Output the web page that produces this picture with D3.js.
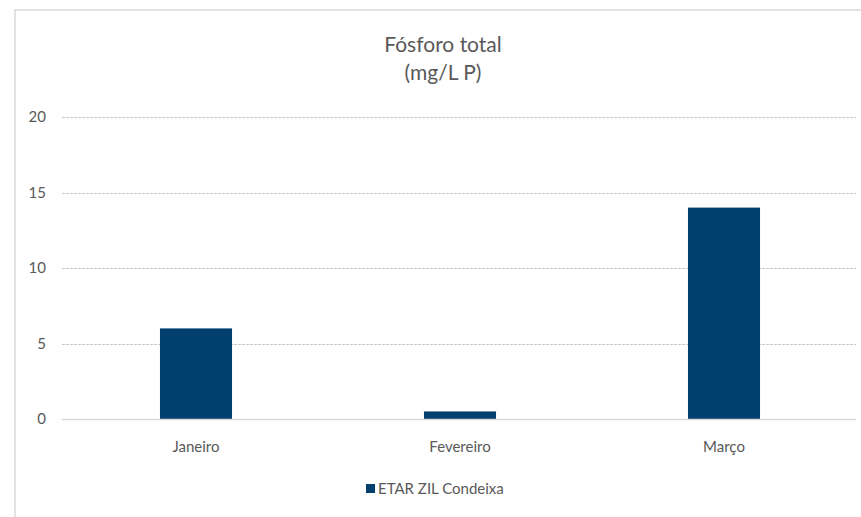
<!DOCTYPE html>
<html>
<head>
<meta charset="utf-8">
<script src="https://cdn.jsdelivr.net/npm/d3@7"></script>
<style>
  body { margin: 0; background: #fff; }
  text { font-family: Lato, "Open Sans", sans-serif; fill: #595959; }
</style>
</head>
<body>
<div id="chart"></div>
<script>
const months = ["Janeiro", "Fevereiro", "Março"];
const values = [6.0, 0.5, 14.0];
const yTicks = [0, 5, 10, 15, 20];
const seriesName = "ETAR ZIL Condeixa";
const titleLines = ["Fósforo total", "(mg/L P)"];

const width = 861, height = 517;
const plot = { left: 62, right: 856, top: 117, bottom: 419 };
const barColor = "#003f6e";

const svg = d3.select("#chart")
    .append("svg")
    .attr("width", width)
    .attr("height", height);

// chart frame (only top/left visible in the crop)
svg.append("rect")
    .attr("x", 15).attr("y", 10)
    .attr("width", 880).attr("height", 560)
    .attr("fill", "none")
    .attr("stroke", "#d9d9d9")
    .attr("stroke-width", 1.5);

const x = d3.scaleBand()
    .domain(months)
    .range([plot.left + 2, plot.right])
    .paddingInner(0.727)
    .paddingOuter(0.3635);

const y = d3.scaleLinear()
    .domain([0, 20])
    .range([plot.bottom, plot.top]);

// gridlines
svg.append("g")
    .selectAll("line")
    .data(yTicks.filter(d => d > 0))
    .join("line")
    .attr("x1", plot.left)
    .attr("x2", plot.right)
    .attr("y1", d => Math.round(y(d)) + 0.5)
    .attr("y2", d => Math.round(y(d)) + 0.5)
    .attr("stroke", "#c8c8c8")
    .attr("stroke-dasharray", "3,1");

// y tick labels
svg.append("g")
    .selectAll("text")
    .data(yTicks)
    .join("text")
    .attr("x", 46)
    .attr("y", d => y(d) + 5)
    .attr("text-anchor", "end")
    .style("font-size", "15px")
    .text(d => d);

// bars
svg.append("g")
    .selectAll("rect")
    .data(values)
    .join("rect")
    .attr("x", (d, i) => x(months[i]))
    .attr("y", d => y(d))
    .attr("width", x.bandwidth())
    .attr("height", d => y(0) - y(d))
    .attr("fill", barColor);

// baseline
svg.append("line")
    .attr("x1", plot.left).attr("x2", plot.right)
    .attr("y1", y(0) + 0.5).attr("y2", y(0) + 0.5)
    .attr("stroke", "#d9d9d9")
    .attr("stroke-width", 1.5);

// category labels
svg.append("g")
    .selectAll("text")
    .data(months)
    .join("text")
    .attr("x", d => x(d) + x.bandwidth() / 2)
    .attr("y", 452)
    .attr("text-anchor", "middle")
    .style("font-size", "15px")
    .text(d => d);

// title
svg.append("text")
    .attr("x", 443)
    .attr("y", 52)
    .attr("text-anchor", "middle")
    .style("font-size", "21px")
    .selectAll("tspan")
    .data(titleLines)
    .join("tspan")
    .attr("x", 443)
    .attr("dy", (d, i) => i === 0 ? 0 : 28)
    .text(d => d);

// legend
const legend = svg.append("g");
legend.append("rect")
    .attr("x", 366).attr("y", 484)
    .attr("width", 9).attr("height", 9)
    .attr("fill", barColor);
legend.append("text")
    .attr("x", 378).attr("y", 494)
    .style("font-size", "15px")
    .text(seriesName);
</script>
</body>
</html>
